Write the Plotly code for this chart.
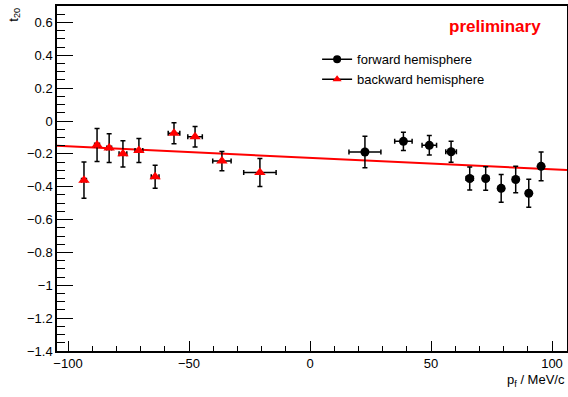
import plotly.graph_objects as go
import numpy as np

# forward hemisphere
fwd_x = [22.7, 38.6, 49.3, 58.3, 66.0, 72.6, 79.0, 85.0, 90.4, 95.5]
fwd_y = [-0.189, -0.124, -0.148, -0.187, -0.350, -0.350, -0.410, -0.356, -0.440, -0.276]
fwd_ex = [6.6, 3.6, 3.0, 2.2, 1.5, 1.2, 1.2, 1.0, 1.0, 0.8]
fwd_ey = [0.096, 0.056, 0.059, 0.064, 0.070, 0.071, 0.085, 0.080, 0.085, 0.088]

# backward hemisphere
bwd_x = [-93.4, -88.0, -83.0, -77.3, -70.7, -64.0, -56.2, -47.5, -36.4, -20.7]
bwd_y = [-0.36, -0.146, -0.165, -0.200, -0.180, -0.340, -0.075, -0.096, -0.244, -0.313]
bwd_ex = [1.0, 1.0, 1.0, 1.6, 1.6, 1.6, 2.4, 3.0, 3.8, 6.7]
bwd_ey = [0.11, 0.10, 0.087, 0.080, 0.073, 0.070, 0.064, 0.063, 0.059, 0.085]

# linear fit parameters
fit_intercept = -0.224
fit_slope = -0.0007
x_range = [-104.55, 106.2]
y_range = [-1.4, 0.7]

font = "Liberation Sans, Arial, Helvetica, sans-serif"

fig = go.Figure()

fx = np.array(x_range)
fig.add_trace(go.Scatter(x=fx, y=fit_intercept + fit_slope * fx, mode="lines",
                         line=dict(color="#ff0000", width=2), showlegend=False,
                         hoverinfo="skip"))

err_style = dict(color="black", thickness=1.5, width=2.5)

fig.add_trace(go.Scatter(
    x=fwd_x, y=fwd_y, mode="markers",
    marker=dict(symbol="circle", color="black", size=9),
    error_x=dict(type="data", array=fwd_ex, **err_style),
    error_y=dict(type="data", array=fwd_ey, **err_style),
    showlegend=False))

fig.add_trace(go.Scatter(
    x=bwd_x, y=bwd_y, mode="markers",
    marker=dict(symbol="triangle-up", color="#ff0000", size=10),
    error_x=dict(type="data", array=bwd_ex, **err_style),
    error_y=dict(type="data", array=bwd_ey, **err_style),
    showlegend=False))

# legend entries
fig.add_trace(go.Scatter(x=[None], y=[None], mode="lines+markers",
                         name="forward hemisphere",
                         line=dict(color="black", width=1.5),
                         marker=dict(symbol="circle", color="black", size=8)))
fig.add_trace(go.Scatter(x=[None], y=[None], mode="lines+markers",
                         name="backward hemisphere",
                         line=dict(color="black", width=1.5),
                         marker=dict(symbol="triangle-up", color="#ff0000", size=8)))

fig.update_layout(
    width=568, height=397,
    margin=dict(l=57, r=1, t=6, b=46),
    paper_bgcolor="white", plot_bgcolor="white",
    font=dict(family=font, size=13, color="black"),
    legend=dict(x=0.51, y=0.889, xanchor="left", yanchor="top",
                bgcolor="rgba(0,0,0,0)", font=dict(size=13),
                itemwidth=30, tracegroupgap=0),
    showlegend=True,
)

fig.update_xaxes(range=x_range, showgrid=False, zeroline=False, automargin=False,
                 showline=True, linecolor="black", linewidth=1.5, mirror=True,
                 ticks="inside", ticklen=10, tickwidth=1.2, tickcolor="black",
                 tick0=-100, dtick=50,
                 minor=dict(ticks="inside", ticklen=5, dtick=10, tick0=-100,
                            tickcolor="black", tickwidth=1),
                 tickfont=dict(size=13))
fig.update_yaxes(range=y_range, showgrid=False, zeroline=False, automargin=False,
                 showline=True, linecolor="black", linewidth=1.5, mirror=True,
                 ticks="inside", ticklen=16, tickwidth=1.2, tickcolor="black",
                 tick0=-1.4, dtick=0.2,
                 minor=dict(ticks="inside", ticklen=8, dtick=0.05, tick0=-1.4,
                            tickcolor="black", tickwidth=1),
                 tickfont=dict(size=13), tickformat="~g")

fig.add_annotation(text="preliminary", x=0.953, y=0.975, xref="paper", yref="paper",
                   xanchor="right", yanchor="top", showarrow=False,
                   font=dict(size=17, color="#ff0000", family=font, weight="bold"))
fig.add_annotation(text="p<sub>f</sub> / MeV/c", x=1.0, y=-0.055, xref="paper", yref="paper",
                   xanchor="right", yanchor="top", showarrow=False,
                   font=dict(size=13, family=font))
fig.add_annotation(text="t<sub>20</sub>", x=-0.085, y=1.0, xref="paper", yref="paper",
                   xanchor="center", yanchor="top", showarrow=False, textangle=-90,
                   font=dict(size=13, family=font))

fig.write_html("out.html", config={"displayModeBar": False},
               post_script="document.body.style.margin='0';document.body.style.overflow='hidden';")
